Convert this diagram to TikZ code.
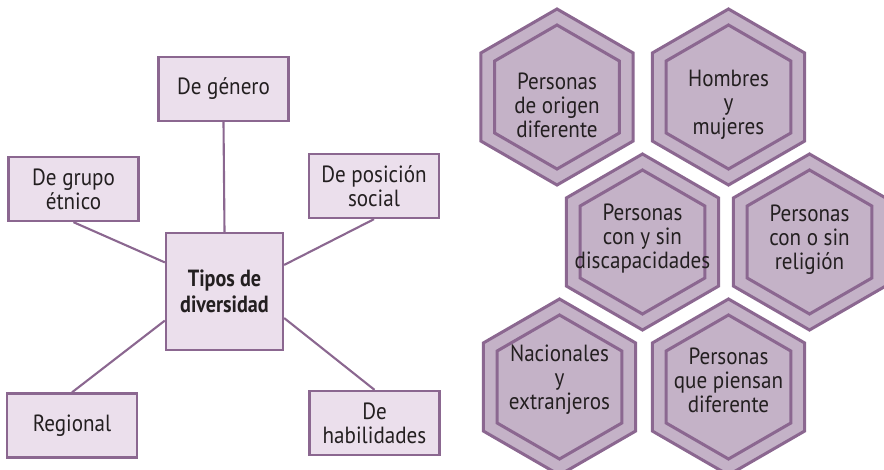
\documentclass[tikz,border=0pt]{standalone}
\usepackage{fontspec}
\setmainfont{PT Sans}[FakeStretch=0.9]
\newfontfamily\titlefont{PT Sans}[FakeStretch=0.86]
\usepackage{xcolor}
\usepackage{tikz}

\definecolor{boxfill}{HTML}{EBDFEC}
\definecolor{hexfill}{HTML}{C4B2C7}
\definecolor{edgecol}{HTML}{8B6790}
\definecolor{txtcol}{HTML}{231F20}

\tikzset{
  tipobox/.style={draw=edgecol, line width=2pt, fill=boxfill, align=center, text=txtcol,
    minimum width=3.9cm, minimum height=1.92cm, inner sep=2pt},
  hexedge/.style={draw=edgecol, line width=2.6pt, line join=miter},
  hextext/.style={align=center, text=txtcol, inner sep=0pt},
  link/.style={draw=edgecol, line width=1.8pt}
}

\begin{document}
\begin{tikzpicture}[x=0.03cm, y=-0.03cm, every node/.style={font=\fontsize{20}{20.5}\selectfont}]
	\useasboundingbox (0,0) rectangle (884,470);
	% tipos de diversidad
	\node (tipos) at (224.5,291.5) [tipobox, minimum width=3.51cm, minimum height=3.51cm, font=\fontsize{20}{22}\titlefont\bfseries] {Tipos de\\diversidad};
	\node (genero) at (223.5,89) [tipobox] {De g\'enero};
	\node (etnico) at (73.5,189) [tipobox] {De grupo\\\'etnico};
	\node (posicion) at (374,186) [tipobox] {De posici\'on\\social};
	\node (regional) at (72,425.5) [tipobox] {Regional};
	\node (habilidades) at (374.5,423) [tipobox] {De\\habilidades};
	\draw[link] (genero.south) -- (tipos.north);
	\draw[link] (etnico.south) -- (tipos.154);
	\draw[link] (posicion.south) -- (tipos.24);
	\draw[link] (regional.north) -- (tipos.206);
	\draw[link] (habilidades.north) -- (tipos.336);
	% hexagonos
	\foreach \cx/\cy/\ty/\nm/\txt in {
		557/97/105/origen/{Personas\\de origen\\diferente},
		728.5/97/105/hombres/{Hombres\\y\\mujeres},
		642.5/242/239/discap/{Personas\\con y sin\\discapacidades},
		809.5/242/240/religion/{Personas\\con o sin\\religi\'on},
		559.5/387/380/nacionales/{Nacionales\\y\\extranjeros},
		728.5/387/380/piensan/{Personas\\que piensan\\diferente}} {
		\draw[hexedge, fill=hexfill] (\cx,\cy) +(90:88) -- +(150:88) -- +(210:88) -- +(270:88) -- +(330:88) -- +(30:88) -- cycle;
		\draw[hexedge] (\cx,\cy) +(90:72) -- +(150:72) -- +(210:72) -- +(270:72) -- +(330:72) -- +(30:72) -- cycle;
		\node (\nm) at (\cx,\ty) [hextext] {\txt};
	}
\end{tikzpicture}
\end{document}
